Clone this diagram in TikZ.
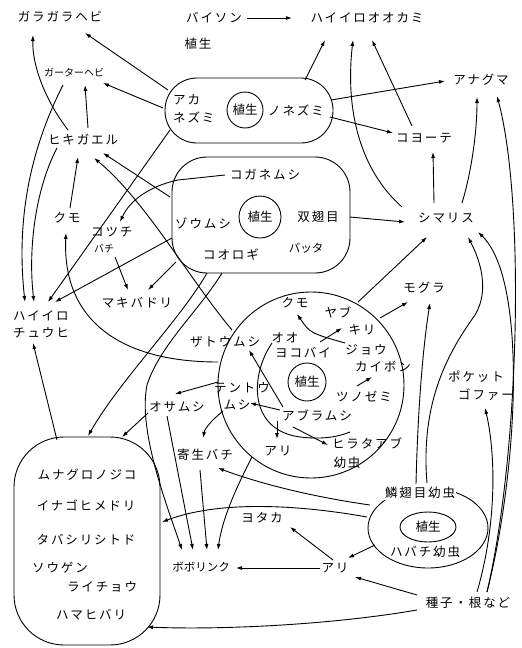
\documentclass[tikz,border=0pt]{standalone}
\usepackage{fontspec}
\setmainfont{Noto Sans CJK JP}
\newfontfamily\jp[LetterSpace=15]{Noto Sans CJK JP}
\newfontfamily\jpn{Noto Sans CJK JP}
\usetikzlibrary{arrows.meta,shapes.geometric}
\begin{document}
\begin{tikzpicture}[x=1pt,y=-1pt,
 lab/.style={font=\jp\fontsize{12.5}{17}\selectfont, inner sep=1pt},
 sm/.style={font=\jpn\fontsize{10}{12}\selectfont, inner sep=1pt},
 mid/.style={font=\jpn\fontsize{11.5}{13}\selectfont, inner sep=1pt},
 veg/.style={draw, circle, line width=0.9pt, inner sep=0pt, font=\jpn\fontsize{12.5}{14}\selectfont},
 arr/.style={-{Latex[length=6pt,width=4pt]}, line width=0.9pt},
 ln/.style={line width=0.9pt},
 grp/.style={line width=0.9pt}]
\useasboundingbox (0,0) rectangle (522,648);
\fill[white] (0,0) rectangle (522,648);

% group outlines
\draw[grp, rounded corners=32pt] (165,78) rectangle (333,143);
\draw[grp, rounded corners=35pt] (172,157) rectangle (350,273);
\draw[grp] (311,385) circle [radius=93];
\draw[grp, rounded corners=50pt] (14,437) rectangle (160,645);
\draw[grp] (428,528) ellipse [x radius=60, y radius=40];

% ---- connectors ----
\draw[arr] (247,18) -- (292,18);
\draw[arr] (168,90) -- (85,33);
\draw[arr] (163,108) -- (103,83);
\draw[arr] (170,130) -- (48,302);
\draw[arr] (305,80) -- (325,40);
\draw[arr] (331,100) -- (445,81);
\draw[arr] (330,117) -- (393,133);
\draw[arr] (68,130) .. controls (45,100) and (32,65) .. (33,35);
\draw[arr] (88,128) -- (85,85);
\draw[arr] (63,85) .. controls (30,150) and (16,220) .. (25,302);
\draw[arr] (57,148) .. controls (35,190) and (28,250) .. (34,302);
\draw[arr] (70,208) -- (78,157);
\draw[arr] (170,197) -- (103,153);
\draw[arr] (232,330) .. controls (190,280) and (145,200) .. (94,158);
\draw[arr] (218,362) .. controls (120,362) and (62,320) .. (66,233);
\draw[arr] (172,238) -- (55,302);
\draw[arr] (225,175) -- (178,180) .. controls (150,186) and (130,200) .. (120,222);
\draw[arr] (115,257) -- (128,290);
\draw[arr] (176,262) -- (148,290);
\draw[arr] (207,273) .. controls (180,320) and (120,380) .. (88,436);
\draw[arr] (222,273) .. controls (198,312) and (160,345) .. (147,385) .. controls (138,430) and (165,500) .. (182,550);
\draw[arr] (350,217) -- (405,222);
\draw[arr] (402,207) .. controls (360,170) and (345,110) .. (353,40);
\draw[arr] (412,126) -- (372,40);
\draw[arr] (434,203) -- (433,152);
\draw[arr] (462,203) .. controls (472,170) and (477,130) .. (477,97);
\draw[arr] (487,592) .. controls (520,450) and (525,200) .. (497,96);
\draw[arr] (487,592) .. controls (518,470) and (528,280) .. (478,232);
\draw[arr] (477,592) .. controls (498,520) and (495,450) .. (485,408);
\draw[arr] (380,318) -- (408,302);
\draw[arr] (358,302) -- (427,237);
\draw[arr] (416,484) .. controls (418,400) and (424,340) .. (430,303);
\draw[arr] (427,483) .. controls (420,400) and (450,350) .. (475,315) .. controls (490,290) and (480,260) .. (468,237);
\draw[arr] (218,382) -- (175,394);
\draw[arr] (148,413) -- (122,437);
\draw[arr] (167,416) -- (193,550);
\draw[arr] (200,470) -- (207,550);
\draw[arr] (252,457) .. controls (235,490) and (222,520) .. (218,550);
\draw[arr] (223,411) .. controls (212,420) and (205,428) .. (203,438);
\draw[arr] (280,410) -- (250,403);
\draw[arr] (283,407) -- (249,350);
\draw[arr] (277,421) -- (277,439);
\draw[arr] (293,427) -- (328,445);
\draw[arr] (345,343) .. controls (310,333) .. (297,314);
\draw[arr] (320,342) -- (342,328);
\draw[arr] (357,386) -- (372,377);
\draw[ln] (272,343) .. controls (250,375) and (248,430) .. (300,437) .. controls (325,440) and (340,436) .. (350,432);
\draw[arr] (370,505) .. controls (300,495) and (250,480) .. (218,468);
\draw[arr] (367,517) .. controls (300,505) and (220,500) .. (162,522);
\draw[arr] (375,545) -- (348,558);
\draw[arr] (333,560) -- (290,527);
\draw[arr] (320,568) -- (236,568);
\draw[arr] (417,595) -- (355,577);
\draw[arr] (417,610) .. controls (330,625) and (220,630) .. (147,627);
\draw[arr] (57,440) -- (33,343);

% ---- labels ----
\node[lab] (garagara) at (60,17) {ガラガラヘビ};
\node[lab, fill=white] (bison) at (214,18) {バイソン};
\node[lab] (wolf) at (367,18) {ハイイロオオカミ};
\node[lab] (veg0) at (198,44) {植生};
\node[sm] (garter) at (74,73) {ガーターヘビ};
\node[lab, align=left, anchor=west, font=\jp\fontsize{12.5}{18}\selectfont] (akane) at (172,109) {アカ\\ネズミ};
\node[veg, minimum size=36pt] (veg1) at (245,110) {植生};
\node[lab] (nonezumi) at (296,110) {ノネズミ};
\node[lab] (hiki) at (83,140) {ヒキガエル};
\node[lab] (anaguma) at (481,80) {アナグマ};
\node[lab] (coyote) at (424,138) {コヨーテ};
\node[lab] (kumoL) at (67,218) {クモ};
\node[lab, anchor=west] (kotsuchi) at (90,232) {コツチ};
\node[sm, anchor=west] (bachi) at (93,249) {バチ};
\node[lab] (makiba) at (137,303) {マキバドリ};
\node[lab, align=left, anchor=west] (haiiro) at (12,324) {ハイイロ\\チュウヒ};
\node[lab] (kogane) at (265,175) {コガネムシ};
\node[veg, minimum size=42pt] (veg2) at (260,217) {植生};
\node[lab] (zoumushi) at (203,223) {ゾウムシ};
\node[lab] (souji) at (318,217) {双翅目};
\node[lab] (koorogi) at (231,255) {コオロギ};
\node[mid] (batta) at (306,248) {バッタ};
\node[lab] (shimarisu) at (446,218) {シマリス};
\node[lab] (mogura) at (424,288) {モグラ};
\node[veg, minimum size=38pt] (veg3) at (307,382) {植生};
\node[lab] (kumoC) at (295,303) {クモ};
\node[lab] (yabu) at (338,312) {ヤブ};
\node[lab] (kiri) at (362,330) {キリ};
\node[lab] (zatou) at (225,342) {ザトウムシ};
\node[lab] (oo) at (285,338) {オオ};
\node[lab] (yokobai) at (303,353) {ヨコバイ};
\node[lab] (jou) at (366,350) {ジョウ};
\node[lab] (kaibon) at (383,367) {カイボン};
\node[lab] (tsuno) at (364,396) {ツノゼミ};
\node[lab] (tento) at (242,388) {テントウ};
\node[lab] (tmushi) at (237,405) {ムシ};
\node[lab] (abura) at (317,415) {アブラムシ};
\node[lab] (hirata) at (367,443) {ヒラタアブ};
\node[lab] (youchu) at (347,463) {幼虫};
\node[lab] (ariC) at (278,451) {アリ};
\node[lab] (kisei) at (205,455) {寄生バチ};
\node[lab] (osamushi) at (177,407) {オサムシ};
\node[lab] (munaguro) at (87,475) {ムナグロノジコ};
\node[lab] (inago) at (86,505) {イナゴヒメドリ};
\node[lab] (tabashiri) at (86,540) {タバシリシトド};
\node[lab] (sougen) at (60,568) {ソウゲン};
\node[lab] (raichou) at (102,587) {ライチョウ};
\node[lab] (hamahibari) at (91,615) {ハマヒバリ};
\node[mid] (bobolink) at (201,567) {ボボリンク};
\node[lab] (yotaka) at (262,518) {ヨタカ};
\node[lab, fill=white] (ariB) at (335,568) {アリ};
\node[lab, fill=white] (rinshi) at (420,493) {鱗翅目幼虫};
\node[draw, ellipse, line width=0.9pt, inner sep=0pt, minimum width=56pt, minimum height=30pt, font=\jpn\fontsize{12.5}{14}\selectfont] (veg4) at (428,527) {植生};
\node[lab] (habachi) at (425,552) {ハバチ幼虫};
\node[lab] (shushi) at (468,603) {種子・根など};
\node[lab] (pocket) at (476,377) {ポケット};
\node[lab] (gopher) at (486,395) {ゴファー};
\end{tikzpicture}
\end{document}
